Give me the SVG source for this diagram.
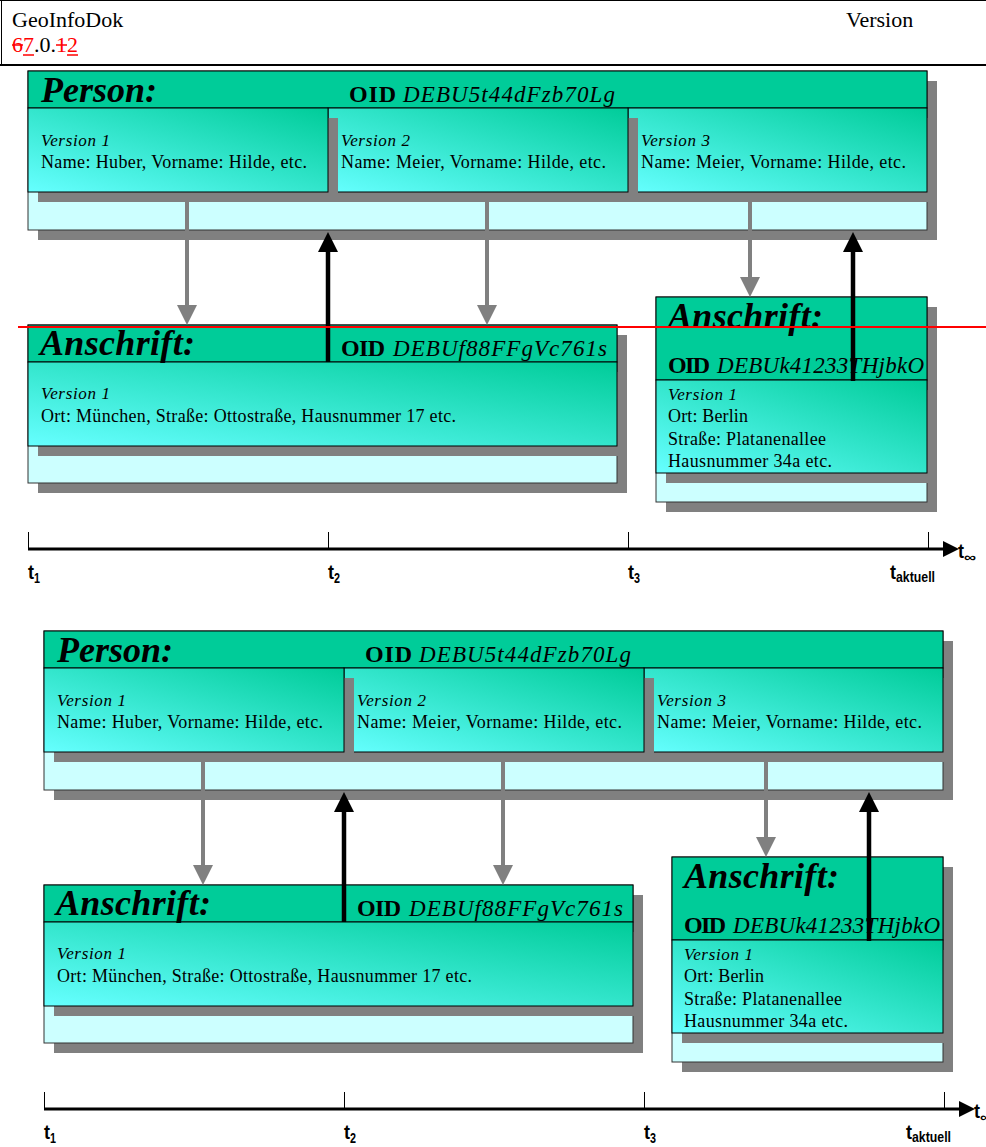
<svg xmlns="http://www.w3.org/2000/svg" width="986" height="1147" viewBox="0 0 986 1147">
<style>
.sh{fill:#808080}
.bg{fill:#CCFFFF;stroke:#333;stroke-width:1}
.hd{fill:#00CC99;stroke:#000;stroke-width:1}
.vb{fill:url(#vg);stroke:#000;stroke-width:1}
.big{font-family:"Liberation Serif",serif;font-size:36px;font-weight:bold;font-style:italic;fill:#000}
.oid{font-family:"Liberation Serif",serif;font-size:24px;font-weight:bold;fill:#000}
.oidv{font-family:"Liberation Serif",serif;font-size:23px;font-style:italic;fill:#000}
.ver{font-family:"Liberation Serif",serif;font-size:17px;font-style:italic;fill:#000}
.txt{font-family:"Liberation Serif",serif;font-size:18px;fill:#000}
.hdr{font-family:"Liberation Serif",serif;font-size:22px;fill:#000}
.tl{font-family:"Liberation Sans",sans-serif;font-size:21px;font-weight:bold;fill:#000}
.ts{font-family:"Liberation Sans",sans-serif;font-size:14px;font-weight:bold;fill:#000}
.ga{stroke:#808080;stroke-width:4;fill:none}
.ba{stroke:#000;stroke-width:4.5;fill:none}
.tick{stroke:#000;stroke-width:1}
.axis{stroke:#000;stroke-width:3}
</style>
<defs>
<linearGradient id="vg" x1="0" y1="1" x2="1" y2="0">
<stop offset="0" stop-color="#66FFFF"/>
<stop offset="1" stop-color="#00CC99"/>
</linearGradient>
<marker id="mg" markerUnits="userSpaceOnUse" markerWidth="20" markerHeight="20" viewBox="0 0 20 20" refX="0" refY="10" orient="auto">
<path d="M0,0 L20,10 L0,20 z" fill="#808080"/>
</marker>
<marker id="mb" markerUnits="userSpaceOnUse" markerWidth="20" markerHeight="20" viewBox="0 0 20 20" refX="0" refY="10" orient="auto">
<path d="M0,0 L20,10 L0,20 z" fill="#000"/>
</marker>
<marker id="ma" markerUnits="userSpaceOnUse" markerWidth="16" markerHeight="16" viewBox="0 0 16 16" refX="0" refY="8" orient="auto">
<path d="M0,0 L16,8 L0,16 z" fill="#000"/>
</marker>
</defs>
<rect width="986" height="1147" fill="#fff"/>

<g id="page-header">
<line x1="0" y1="0.5" x2="986" y2="0.5" stroke="#000" stroke-width="1"/>
<line x1="1.5" y1="0" x2="1.5" y2="66" stroke="#000" stroke-width="1"/>
<line x1="0" y1="65" x2="986" y2="65" stroke="#000" stroke-width="2"/>
<text class="hdr" x="12" y="27">GeoInfoDok</text>
<text class="hdr" x="846" y="27">Version</text>
<text class="hdr" x="12" y="52"><tspan fill="#FF0000">67</tspan>.0.<tspan fill="#FF0000">12</tspan></text>
<g stroke="#FF0000" stroke-width="1.5">
<line x1="12" y1="45" x2="23" y2="45"/>
<line x1="56" y1="45" x2="67" y2="45"/>
<line x1="23" y1="55" x2="34" y2="55"/>
<line x1="67" y1="55" x2="78" y2="55"/>
</g>
</g>

<g id="diagram-top">
<g id="person-top">
<rect class="sh" x="38" y="81" width="899" height="159"/>
<rect class="bg" x="28" y="71" width="899" height="159"/>
<rect class="hd" x="28" y="71" width="899" height="37"/>
<rect class="sh" x="638" y="118" width="299" height="84"/>
<rect class="vb" x="628" y="108" width="299" height="84"/>
<rect class="sh" x="338" y="118" width="300" height="84"/>
<rect class="vb" x="328" y="108" width="300" height="84"/>
<rect class="sh" x="38" y="118" width="300" height="84"/>
<rect class="vb" x="28" y="108" width="300" height="84"/>
<text class="big" x="41" y="102" textLength="116" lengthAdjust="spacing">Person:</text>
<text class="oid" x="349" y="102" textLength="47" lengthAdjust="spacing">OID</text>
<text class="oidv" x="403" y="102" textLength="212" lengthAdjust="spacing">DEBU5t44dFzb70Lg</text>
<text class="ver" x="41" y="146" textLength="69" lengthAdjust="spacing">Version 1</text>
<text class="txt" x="41" y="168" textLength="266" lengthAdjust="spacing">Name: Huber, Vorname: Hilde, etc.</text>
<text class="ver" x="341" y="146" textLength="69" lengthAdjust="spacing">Version 2</text>
<text class="txt" x="341" y="168" textLength="265" lengthAdjust="spacing">Name: Meier, Vorname: Hilde, etc.</text>
<text class="ver" x="641" y="146" textLength="69" lengthAdjust="spacing">Version 3</text>
<text class="txt" x="641" y="168" textLength="265" lengthAdjust="spacing">Name: Meier, Vorname: Hilde, etc.</text>
</g>
<g id="anschrift1-top">
<rect class="sh" x="38" y="335" width="589" height="158"/>
<rect class="bg" x="28" y="325" width="589" height="158"/>
<rect class="hd" x="28" y="325" width="589" height="37"/>
<rect class="sh" x="38" y="372" width="589" height="84"/>
<rect class="vb" x="28" y="362" width="589" height="84"/>
<text class="big" x="40" y="355" textLength="155" lengthAdjust="spacing">Anschrift:</text>
<text class="oid" x="341" y="356" textLength="44" lengthAdjust="spacing">OID</text>
<text class="oidv" x="393" y="356" textLength="214" lengthAdjust="spacing">DEBUf88FFgVc761s</text>
<text class="ver" x="41" y="399" textLength="69" lengthAdjust="spacing">Version 1</text>
<text class="txt" x="41" y="422" textLength="415" lengthAdjust="spacing">Ort: München, Straße: Ottostraße, Hausnummer 17 etc.</text>
</g>
<g id="anschrift2-top">
<rect class="sh" x="666" y="307" width="271" height="205"/>
<rect class="bg" x="656" y="297" width="271" height="205"/>
<rect class="hd" x="656" y="297" width="271" height="83"/>
<rect class="sh" x="666" y="390" width="271" height="93"/>
<rect class="vb" x="656" y="380" width="271" height="93"/>
<text class="big" x="668" y="328" textLength="155" lengthAdjust="spacing">Anschrift:</text>
<text class="oid" x="668" y="373" textLength="42" lengthAdjust="spacing">OID</text>
<text class="oidv" x="717" y="373" textLength="207" lengthAdjust="spacing">DEBUk41233THjbkO</text>
<text class="ver" x="668" y="400" textLength="69" lengthAdjust="spacing">Version 1</text>
<text class="txt" x="668" y="422" textLength="80" lengthAdjust="spacing">Ort: Berlin</text>
<text class="txt" x="668" y="445" textLength="158" lengthAdjust="spacing">Straße: Platanenallee</text>
<text class="txt" x="668" y="467" textLength="164" lengthAdjust="spacing">Hausnummer 34a etc.</text>
</g>
<g id="connectors-top">
<line class="ga" x1="187" y1="202" x2="187" y2="305" marker-end="url(#mg)"/>
<line class="ga" x1="487" y1="202" x2="487" y2="305" marker-end="url(#mg)"/>
<line class="ga" x1="750" y1="202" x2="750" y2="277" marker-end="url(#mg)"/>
<line class="ba" x1="328" y1="362" x2="328" y2="252" marker-end="url(#mb)"/>
<line class="ba" x1="853" y1="381" x2="853" y2="252" marker-end="url(#mb)"/>
</g>
<g id="timeaxis-top">
<line class="axis" x1="28" y1="549" x2="943" y2="549" marker-end="url(#ma)"/>
<line class="tick" x1="28.5" y1="532" x2="28.5" y2="549"/>
<line class="tick" x1="328.5" y1="532" x2="328.5" y2="549"/>
<line class="tick" x1="628.5" y1="532" x2="628.5" y2="549"/>
<line class="tick" x1="928.5" y1="532" x2="928.5" y2="549"/>
<text class="tl" x="28" y="579" textLength="6" lengthAdjust="spacingAndGlyphs">t</text>
<text class="ts" x="34" y="583" textLength="6" lengthAdjust="spacingAndGlyphs">1</text>
<text class="tl" x="328" y="579" textLength="6" lengthAdjust="spacingAndGlyphs">t</text>
<text class="ts" x="334" y="583" textLength="6" lengthAdjust="spacingAndGlyphs">2</text>
<text class="tl" x="628" y="579" textLength="6" lengthAdjust="spacingAndGlyphs">t</text>
<text class="ts" x="634" y="583" textLength="6" lengthAdjust="spacingAndGlyphs">3</text>
<text class="tl" x="890" y="579" textLength="6" lengthAdjust="spacingAndGlyphs">t</text>
<text class="ts" x="896" y="582" font-size="11" textLength="39" lengthAdjust="spacingAndGlyphs">aktuell</text>
<text class="tl" x="958" y="558" textLength="6" lengthAdjust="spacingAndGlyphs">t</text>
<text class="ts" x="964" y="562" textLength="12" lengthAdjust="spacingAndGlyphs">∞</text>
</g>
<line id="red-line" x1="18" y1="327" x2="986" y2="327" stroke="#FF0000" stroke-width="2"/>
</g>

<g id="diagram-bottom" transform="translate(16,560)">
<g id="person-bottom">
<rect class="sh" x="38" y="81" width="899" height="159"/>
<rect class="bg" x="28" y="71" width="899" height="159"/>
<rect class="hd" x="28" y="71" width="899" height="37"/>
<rect class="sh" x="638" y="118" width="299" height="84"/>
<rect class="vb" x="628" y="108" width="299" height="84"/>
<rect class="sh" x="338" y="118" width="300" height="84"/>
<rect class="vb" x="328" y="108" width="300" height="84"/>
<rect class="sh" x="38" y="118" width="300" height="84"/>
<rect class="vb" x="28" y="108" width="300" height="84"/>
<text class="big" x="41" y="102" textLength="116" lengthAdjust="spacing">Person:</text>
<text class="oid" x="349" y="102" textLength="47" lengthAdjust="spacing">OID</text>
<text class="oidv" x="403" y="102" textLength="212" lengthAdjust="spacing">DEBU5t44dFzb70Lg</text>
<text class="ver" x="41" y="146" textLength="69" lengthAdjust="spacing">Version 1</text>
<text class="txt" x="41" y="168" textLength="266" lengthAdjust="spacing">Name: Huber, Vorname: Hilde, etc.</text>
<text class="ver" x="341" y="146" textLength="69" lengthAdjust="spacing">Version 2</text>
<text class="txt" x="341" y="168" textLength="265" lengthAdjust="spacing">Name: Meier, Vorname: Hilde, etc.</text>
<text class="ver" x="641" y="146" textLength="69" lengthAdjust="spacing">Version 3</text>
<text class="txt" x="641" y="168" textLength="265" lengthAdjust="spacing">Name: Meier, Vorname: Hilde, etc.</text>
</g>
<g id="anschrift1-bottom">
<rect class="sh" x="38" y="335" width="589" height="158"/>
<rect class="bg" x="28" y="325" width="589" height="158"/>
<rect class="hd" x="28" y="325" width="589" height="37"/>
<rect class="sh" x="38" y="372" width="589" height="84"/>
<rect class="vb" x="28" y="362" width="589" height="84"/>
<text class="big" x="40" y="355" textLength="155" lengthAdjust="spacing">Anschrift:</text>
<text class="oid" x="341" y="356" textLength="44" lengthAdjust="spacing">OID</text>
<text class="oidv" x="393" y="356" textLength="214" lengthAdjust="spacing">DEBUf88FFgVc761s</text>
<text class="ver" x="41" y="399" textLength="69" lengthAdjust="spacing">Version 1</text>
<text class="txt" x="41" y="422" textLength="415" lengthAdjust="spacing">Ort: München, Straße: Ottostraße, Hausnummer 17 etc.</text>
</g>
<g id="anschrift2-bottom">
<rect class="sh" x="666" y="307" width="271" height="205"/>
<rect class="bg" x="656" y="297" width="271" height="205"/>
<rect class="hd" x="656" y="297" width="271" height="83"/>
<rect class="sh" x="666" y="390" width="271" height="93"/>
<rect class="vb" x="656" y="380" width="271" height="93"/>
<text class="big" x="668" y="328" textLength="155" lengthAdjust="spacing">Anschrift:</text>
<text class="oid" x="668" y="373" textLength="42" lengthAdjust="spacing">OID</text>
<text class="oidv" x="717" y="373" textLength="207" lengthAdjust="spacing">DEBUk41233THjbkO</text>
<text class="ver" x="668" y="400" textLength="69" lengthAdjust="spacing">Version 1</text>
<text class="txt" x="668" y="422" textLength="80" lengthAdjust="spacing">Ort: Berlin</text>
<text class="txt" x="668" y="445" textLength="158" lengthAdjust="spacing">Straße: Platanenallee</text>
<text class="txt" x="668" y="467" textLength="164" lengthAdjust="spacing">Hausnummer 34a etc.</text>
</g>
<g id="connectors-bottom">
<line class="ga" x1="187" y1="202" x2="187" y2="305" marker-end="url(#mg)"/>
<line class="ga" x1="487" y1="202" x2="487" y2="305" marker-end="url(#mg)"/>
<line class="ga" x1="750" y1="202" x2="750" y2="277" marker-end="url(#mg)"/>
<line class="ba" x1="328" y1="362" x2="328" y2="252" marker-end="url(#mb)"/>
<line class="ba" x1="853" y1="381" x2="853" y2="252" marker-end="url(#mb)"/>
</g>
<g id="timeaxis-bottom">
<line class="axis" x1="28" y1="549" x2="943" y2="549" marker-end="url(#ma)"/>
<line class="tick" x1="28.5" y1="532" x2="28.5" y2="549"/>
<line class="tick" x1="328.5" y1="532" x2="328.5" y2="549"/>
<line class="tick" x1="628.5" y1="532" x2="628.5" y2="549"/>
<line class="tick" x1="928.5" y1="532" x2="928.5" y2="549"/>
<text class="tl" x="28" y="579" textLength="6" lengthAdjust="spacingAndGlyphs">t</text>
<text class="ts" x="34" y="583" textLength="6" lengthAdjust="spacingAndGlyphs">1</text>
<text class="tl" x="328" y="579" textLength="6" lengthAdjust="spacingAndGlyphs">t</text>
<text class="ts" x="334" y="583" textLength="6" lengthAdjust="spacingAndGlyphs">2</text>
<text class="tl" x="628" y="579" textLength="6" lengthAdjust="spacingAndGlyphs">t</text>
<text class="ts" x="634" y="583" textLength="6" lengthAdjust="spacingAndGlyphs">3</text>
<text class="tl" x="890" y="579" textLength="6" lengthAdjust="spacingAndGlyphs">t</text>
<text class="ts" x="896" y="582" font-size="11" textLength="39" lengthAdjust="spacingAndGlyphs">aktuell</text>
<text class="tl" x="958" y="558" textLength="6" lengthAdjust="spacingAndGlyphs">t</text>
<text class="ts" x="964" y="562" textLength="12" lengthAdjust="spacingAndGlyphs">∞</text>
</g>
</g>
</svg>
